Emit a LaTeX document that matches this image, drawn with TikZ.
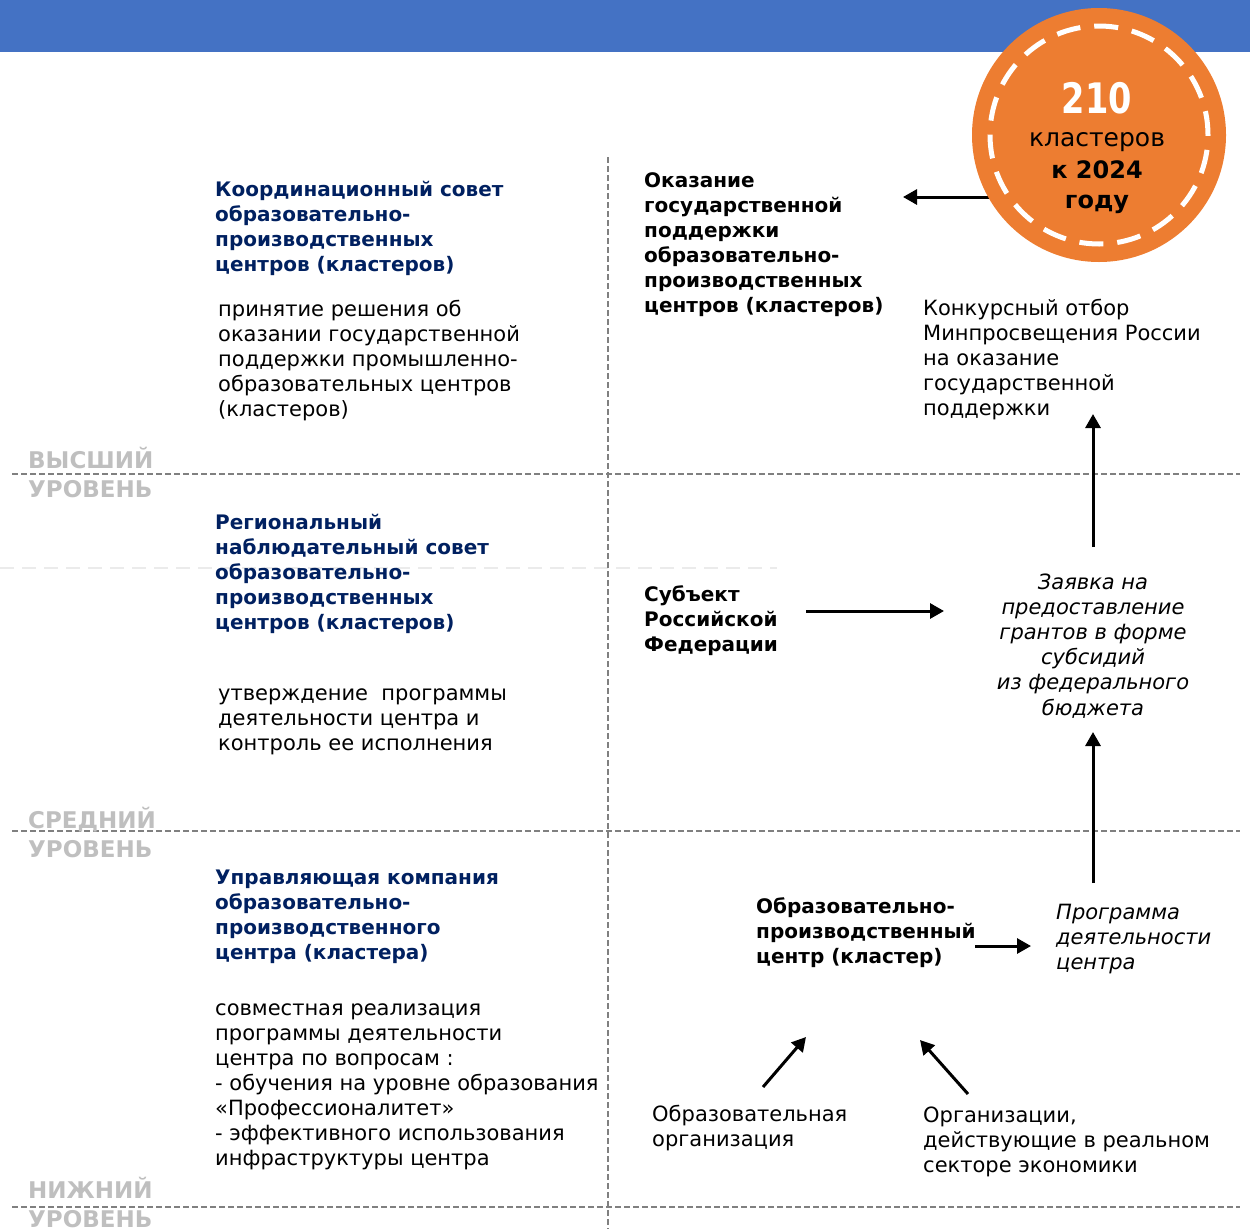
\documentclass[tikz,border=0pt]{standalone}
\usepackage{fontspec}
\setmainfont{DejaVu Sans}
\usetikzlibrary{arrows.meta}
\definecolor{barblue}{HTML}{4472C4}
\definecolor{orng}{HTML}{ED7D31}
\definecolor{navy}{HTML}{002060}
\definecolor{lvlgray}{HTML}{BFBFBF}
\definecolor{dashgray}{HTML}{808080}
\definecolor{faint}{HTML}{EBEBEB}
\begin{document}
\begin{tikzpicture}[x=1pt,y=-1pt,
  title/.style={anchor=base west, align=left, inner sep=0pt, text=navy, font=\fontsize{20}{25}\selectfont\bfseries},
  body/.style={anchor=base west, align=left, inner sep=0pt, font=\fontsize{21}{25}\selectfont},
  boldtxt/.style={anchor=base west, align=left, inner sep=0pt, font=\fontsize{20}{25}\selectfont\bfseries},
  ital/.style={anchor=base west, align=left, inner sep=0pt, font=\fontsize{21}{25}\selectfont\itshape},
  level/.style={anchor=base west, align=left, inner sep=0pt, text=lvlgray, font=\fontsize{23}{29}\selectfont\bfseries},
  divider/.style={draw=dashgray, line width=2pt, dash pattern=on 6pt off 3pt},
  arr/.style={line width=3pt, -{Triangle[length=14pt,width=15pt]}}]
\useasboundingbox (0,0) rectangle (1250,1229);
% top bar
\fill[barblue] (0,0) rectangle (1250,52);
% faint line
\draw[faint, line width=1.5pt, dash pattern=on 14pt off 8pt] (0,568) -- (777,568);
% dividers
\draw[divider] (608,157) -- (608,1229);
\draw[divider] (12,474) -- (1240,474);
\draw[divider] (12,831) -- (1240,831);
\draw[divider] (12,1207) -- (1240,1207);
% level labels (base = last line)
\node[level] (lv1) at (28,497) {ВЫСШИЙ\\УРОВЕНЬ};
\node[level] (lv2) at (28,857) {СРЕДНИЙ\\УРОВЕНЬ};
\node[level] (lv3) at (28,1227) {НИЖНИЙ\\УРОВЕНЬ};
% left column
\node[title] (t1) at (215,271) {Координационный совет\\образовательно-\\производственных\\центров (кластеров)};
\node[body] (b1) at (218,416) {принятие решения об\\оказании государственной\\поддержки промышленно-\\образовательных центров\\(кластеров)};
\node[title] (t2) at (215,629) {Региональный\\наблюдательный совет\\образовательно-\\производственных\\центров (кластеров)};
\node[body] (b2) at (218,750) {утверждение\ \ программы\\деятельности центра и\\контроль ее исполнения};
\node[title] (t3) at (215,959) {Управляющая компания\\образовательно-\\производственного\\центра (кластера)};
\node[body] (b3) at (215,1165) {совместная реализация\\программы деятельности\\центра по вопросам :\\- обучения на уровне образования\\«Профессионалитет»\\- эффективного использования\\инфраструктуры центра};
% right column
\node[boldtxt] (r1) at (644,312) {Оказание\\государственной\\поддержки\\образовательно-\\производственных\\центров (кластеров)};
\node[body] (r2) at (923,415) {Конкурсный отбор\\Минпросвещения России\\на оказание\\государственной\\поддержки};
\node[boldtxt] (subj) at (644,651) {Субъект\\Российской\\Федерации};
\node[anchor=base, align=center, inner sep=0pt, font=\fontsize{21}{25.2}\selectfont\itshape] (app) at (1093,715) {Заявка на\\предоставление\\грантов в форме\\субсидий\\из федерального\\бюджета};
\node[boldtxt] (opc) at (756,963) {Образовательно-\\производственный\\центр (кластер)};
\node[ital] (prog) at (1056,969) {Программа\\деятельности\\центра};
\node[body] (eduorg) at (652,1146) {Образовательная\\организация};
\node[body] (orgs) at (923,1172) {Организации,\\действующие в реальном\\секторе экономики};
% arrows
\coordinate (a1s) at (1000,197); \coordinate (a1e) at (903,197);
\draw[arr] (a1s) -- (a1e);
\coordinate (a2s) at (1093,547); \coordinate (a2e) at (1093,414);
\draw[arr] (a2s) -- (a2e);
\coordinate (a3s) at (806,611); \coordinate (a3e) at (944,611);
\draw[arr] (a3s) -- (a3e);
\coordinate (a4s) at (1093,883); \coordinate (a4e) at (1093,732);
\draw[arr] (a4s) -- (a4e);
\coordinate (a5s) at (975,946); \coordinate (a5e) at (1031,946);
\draw[arr] (a5s) -- (a5e);
\coordinate (a6s) at (763,1087); \coordinate (a6e) at (806,1037);
\draw[arr] (a6s) -- (a6e);
\coordinate (a7s) at (968,1094); \coordinate (a7e) at (920,1040);
\draw[arr] (a7s) -- (a7e);
% badge
\node[circle, fill=orng, minimum size=254pt, inner sep=0pt] (badge) at (1099,135) {};
\draw[white, line width=5pt, dash pattern=on 24pt off 14pt] (badge.center) circle[radius=109pt];
\node[anchor=base, inner sep=0pt, text=white, font=\fontsize{42}{42}\selectfont\bfseries] (num) at (1097,113) {\scalebox{0.8}[1]{210}};
\node[anchor=base, inner sep=0pt, font=\fontsize{25}{25}\selectfont] (kl) at (1097,146) {кластеров};
\node[anchor=base, inner sep=0pt, font=\fontsize{24}{24}\selectfont\bfseries] (yr) at (1097,178) {к 2024};
\node[anchor=base, inner sep=0pt, font=\fontsize{24}{24}\selectfont\bfseries] (god) at (1097,208) {году};
\end{tikzpicture}
\end{document}
